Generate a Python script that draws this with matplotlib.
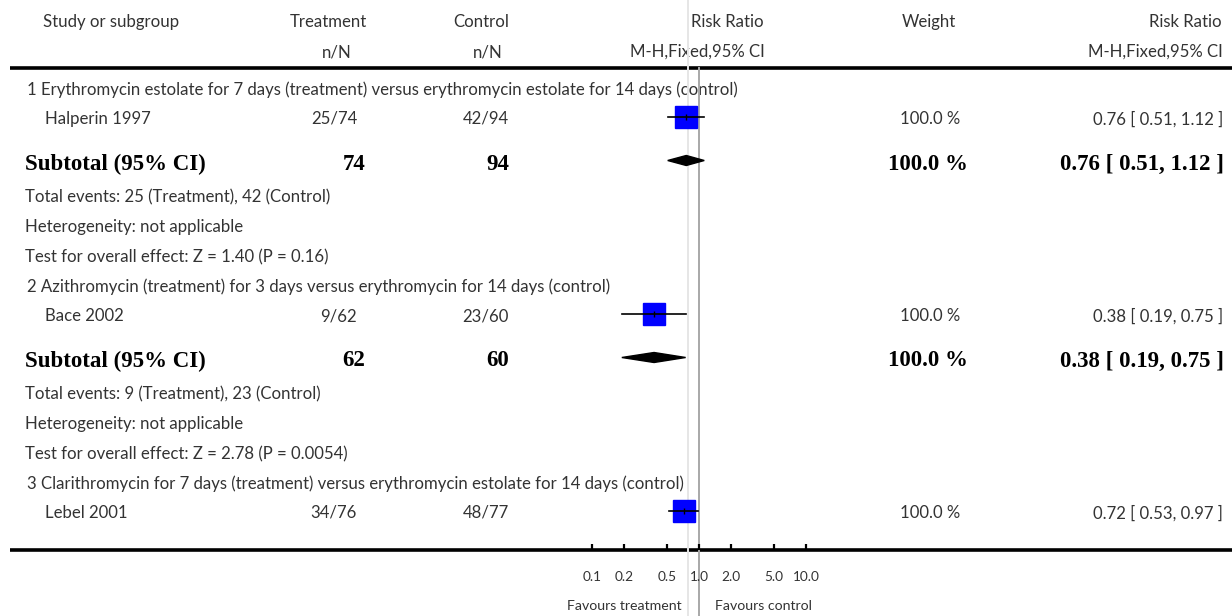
import matplotlib
matplotlib.use("Agg")
import matplotlib.pyplot as plt
from matplotlib.patches import Polygon

# ---------------- data ----------------
header_top = ["Study or subgroup", "Treatment", "Control", "Risk Ratio", "Weight", "Risk Ratio"]
header_sub = ["n/N", "n/N", "M-H,Fixed,95% CI", "M-H,Fixed,95% CI"]

subgroup_titles = [
    "1 Erythromycin estolate for 7 days (treatment) versus erythromycin estolate for 14 days (control)",
    "2 Azithromycin (treatment) for 3 days versus erythromycin for 14 days (control)",
    "3 Clarithromycin for 7 days (treatment) versus erythromycin estolate for 14 days (control)",
]
studies = ["Halperin 1997", "Bace 2002", "Lebel 2001"]
treat_events = [25, 9, 34]
treat_total = [74, 62, 76]
ctrl_events = [42, 23, 48]
ctrl_total = [94, 60, 77]
study_rr = [0.76, 0.38, 0.72]
study_lo = [0.51, 0.19, 0.53]
study_hi = [1.12, 0.75, 0.97]
study_weight = [100.0, 100.0, 100.0]

# subtotals (third subgroup is cut off in the figure)
sub_rr = [0.76, 0.38]
sub_lo = [0.51, 0.19]
sub_hi = [1.12, 0.75]
sub_weight = [100.0, 100.0]
sub_z = ["1.40", "2.78"]
sub_p = ["0.16", "0.0054"]

axis_ticks = [0.1, 0.2, 0.5, 1.0, 2.0, 5.0, 10.0]
axis_ticklabels = ["0.1", "0.2", "0.5", "1.0", "2.0", "5.0", "10.0"]
null_value = 1.0
light_ref_value = 0.79
favours_left = "Favours treatment"
favours_right = "Favours control"

# ---------------- layout ----------------
W, H, DPI = 1232, 616, 100
SANS = ["Lato", "DejaVu Sans"]
SERIF = ["Liberation Serif", "DejaVu Serif"]
FS = 12.1
FSB = 16.5
TXT = "#333333"

fig = plt.figure(figsize=(W / DPI, H / DPI), dpi=DPI)
bg = fig.add_axes([0, 0, 1, 1])
bg.set_xlim(0, W)
bg.set_ylim(H, 0)
bg.axis("off")

TOP_LINE = 68
BOT_LINE = 550
X_LO_PX, X_HI_PX = 592, 806
fa = fig.add_axes([X_LO_PX / W, (H - BOT_LINE) / H, (X_HI_PX - X_LO_PX) / W, (BOT_LINE - TOP_LINE) / H])
fa.patch.set_alpha(0)
fa.set_xscale("log")
fa.set_xlim(axis_ticks[0], axis_ticks[-1])
fa.set_ylim(BOT_LINE, TOP_LINE)
for s in fa.spines.values():
    s.set_visible(False)
fa.set_xticks(axis_ticks)
fa.set_xticklabels(axis_ticklabels)
fa.xaxis.set_minor_locator(matplotlib.ticker.NullLocator())
fa.tick_params(axis="x", direction="in", length=4.5, width=1.6, pad=15, labelsize=9.8, colors="black")
for lbl in fa.get_xticklabels():
    lbl.set_family(SANS)
    lbl.set_color(TXT)
fa.set_yticks([])

# column positions (px)
X_STUDY_HDR = 43
X_SECTION = 27
X_STUDY = 45
X_TREAT_R, X_TREAT_R_B = 357, 365
X_CTRL_R, X_CTRL_R_B = 509, 509
X_WEIGHT_R, X_WEIGHT_R_B = 960, 968
X_RR_R = 1223


def t(x, y, s, ha="left", bold=False, **kw):
    if bold:
        bg.text(x, y, s, ha=ha, va="center", family=SERIF, fontweight="bold", fontsize=FSB, color="black", **kw)
    else:
        bg.text(x, y, s, ha=ha, va="center", family=SANS, fontsize=FS, color=TXT, **kw)


# header
t(X_STUDY_HDR, 22, header_top[0])
t(328, 22, header_top[1], ha="center")
t(481, 22, header_top[2], ha="center")
t(727, 22, header_top[3], ha="center")
t(929, 22, header_top[4], ha="center")
t(X_RR_R - 1, 22, header_top[5], ha="right")
t(337, 52, header_sub[0], ha="center")
t(488, 52, header_sub[1], ha="center")
t(697, 52, header_sub[2], ha="center")
t(X_RR_R, 52, header_sub[3], ha="right")

bg.plot([10, W], [TOP_LINE, TOP_LINE], color="black", lw=2.6, solid_capstyle="butt")
bg.plot([10, W], [BOT_LINE, BOT_LINE], color="black", lw=2.6, solid_capstyle="butt")

# reference lines
fa.plot([light_ref_value] * 2, [0, H], color="#e6e6e6", lw=1.4, clip_on=False, zorder=0)
fa.plot([null_value] * 2, [TOP_LINE, H], color="#a8a8a8", lw=1.4, clip_on=False, zorder=0)

SQ = 22 * 72 / DPI  # square side in points for 100 % weight
DIAM_H = 5


def fmt_ci(r, lo, hi):
    return f"{r:.2f} [ {lo:.2f}, {hi:.2f} ]"


y = 90
for i in range(3):
    t(X_SECTION, y, subgroup_titles[i])
    y += 29
    # study row
    t(X_STUDY, y, studies[i])
    t(X_TREAT_R, y, f"{treat_events[i]}/{treat_total[i]}", ha="right")
    t(X_CTRL_R, y, f"{ctrl_events[i]}/{ctrl_total[i]}", ha="right")
    t(X_WEIGHT_R, y, f"{study_weight[i]:.1f} %", ha="right")
    t(X_RR_R, y, fmt_ci(study_rr[i], study_lo[i], study_hi[i]), ha="right")
    yc = y - 2.5
    fa.plot([study_lo[i], study_hi[i]], [yc, yc], color="black", lw=1.2, zorder=3)
    fa.plot([study_rr[i]], [yc], marker="s", ms=SQ * (study_weight[i] / 100) ** 0.5,
            color="#0000ff", mec="#0000ff", zorder=2)
    fa.plot([study_rr[i]], [yc], marker="|", ms=4, color="black", mew=1.0, zorder=4)
    if i >= len(sub_rr):
        break
    y += 45
    t(25, y, "Subtotal (95% CI)", bold=True)
    t(X_TREAT_R_B, y, f"{treat_total[i]}", ha="right", bold=True)
    t(X_CTRL_R_B, y, f"{ctrl_total[i]}", ha="right", bold=True)
    t(X_WEIGHT_R_B, y, f"{sub_weight[i]:.1f} %", ha="right", bold=True)
    t(X_RR_R + 1, y, fmt_ci(sub_rr[i], sub_lo[i], sub_hi[i]), ha="right", bold=True)
    yd = y - 3.5
    fa.add_patch(Polygon([[sub_lo[i], yd], [sub_rr[i], yd - DIAM_H], [sub_hi[i], yd], [sub_rr[i], yd + DIAM_H]],
                         closed=True, color="black", zorder=3))
    y += 33
    t(X_SECTION - 2, y, f"Total events: {treat_events[i]} (Treatment), {ctrl_events[i]} (Control)")
    y += 30
    t(X_SECTION - 2, y, "Heterogeneity: not applicable")
    y += 30
    t(X_SECTION - 2, y, f"Test for overall effect: Z = {sub_z[i]} (P = {sub_p[i]})")
    y += 30

# favours labels
bg.text(682, 606, favours_left, ha="right", va="center", family=SANS, fontsize=10.2, color=TXT)
bg.text(715, 606, favours_right, ha="left", va="center", family=SANS, fontsize=10.2, color=TXT)

fig.savefig("out.png", dpi=DPI)
